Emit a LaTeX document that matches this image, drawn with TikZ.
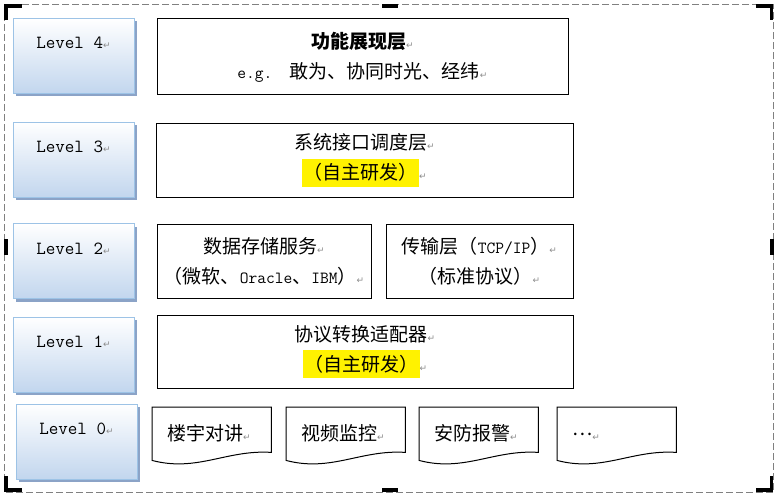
\documentclass[tikz,border=0pt]{standalone}
\usepackage{fontspec}
\newfontfamily\cjk{Noto Sans CJK SC}
\newfontfamily\retfont{DejaVu Sans}
\usepackage{xcolor}
\usetikzlibrary{calc,shadows}

\definecolor{lvlline}{RGB}{157,195,230}
\definecolor{lvlfill}{RGB}{194,214,238}
\definecolor{lvlshade}{RGB}{139,163,199}
\definecolor{framegray}{RGB}{128,128,128}
\definecolor{retgray}{RGB}{140,140,140}

\newcommand\zh[1]{{\cjk\fontsize{19}{30}\selectfont #1}}
\newcommand\retmark{{\retfont\fontsize{9}{9}\selectfont\textcolor{retgray}{↵}}}
\newcommand\yhl[1]{{\setlength\fboxsep{0pt}\colorbox{yellow}{\rule[-7pt]{0pt}{28pt}\hspace{1.5pt}#1\hspace{1.5pt}}}}

\tikzset{
  levelbox/.style={draw=lvlline,line width=1pt,top color=white,bottom color=lvlfill,
    drop shadow={shadow xshift=3pt,shadow yshift=-3pt,fill=lvlshade,opacity=1},
    minimum width=121pt,minimum height=75pt,inner sep=0pt,
    text height=12pt,text depth=26pt,font=\ttfamily\fontsize{18.5}{18.5}\selectfont},
  layerbox/.style={draw,line width=1pt,inner sep=0pt,align=center,
    font=\ttfamily\fontsize{17}{30}\selectfont},
  devtext/.style={anchor=north west,minimum height=45pt,text width=89pt,
    inner xsep=15pt,inner ysep=0pt,align=left,text height=24pt,text depth=2.6pt,
    font=\ttfamily\fontsize{17}{30}\selectfont},
  devline/.style={draw,line width=1pt},
  handle/.style={line width=3.5pt}
}

\begin{document}
\begin{tikzpicture}[x=1pt,y=-1pt]
\useasboundingbox (0,0) rectangle (777,495);
% frame and its handles
\draw[framegray,line width=0.8pt,dash pattern=on 7pt off 3pt](4,4) rectangle (773.5,492);
\draw[handle](6,20)--(6,6)--(22,6);
\draw[handle](756,6)--(771.5,6)--(771.5,20);
\draw[handle](6,476)--(6,489.75)--(22,489.75);
\draw[handle](756,489.75)--(771.5,489.75)--(771.5,476);
\fill(382,4) rectangle (398,8);
\fill(382,487.5) rectangle (398,491.5);
\fill(4,239) rectangle (8,255);
\fill(769.5,239) rectangle (773.5,255);

% levels
\node[levelbox](lv4) at (73.5,56) {Level 4\retmark};
\node[levelbox](lv3) at (73.5,159.5) {Level 3\retmark};
\node[levelbox](lv2) at (73.5,261) {Level 2\retmark};
\node[levelbox](lv1) at (73.5,354.5) {Level 1\retmark};
\node[levelbox](lv0) at (76.5,441.5) {Level 0\retmark};

% layers
\node[layerbox,minimum width=411pt,minimum height=76pt](show) at (362.5,57)
  {\zh{\bfseries 功能展现层}\retmark\\ e.g.\ \ \zh{敢为、协同时光、经纬}\retmark};
\node[layerbox,minimum width=417pt,minimum height=74pt](sched) at (364.5,160)
  {\zh{系统接口调度层}\retmark\\ \yhl{\zh{（自主研发）}}\retmark};
\node[layerbox,minimum width=214pt,minimum height=74pt](store) at (264,261)
  {\zh{数据存储服务}\retmark\\ \zh{（微软、}Oracle\zh{、}IBM\zh{）}\retmark};
\node[layerbox,minimum width=187pt,minimum height=74pt](trans) at (479.5,261)
  {\zh{传输层（}TCP/IP\zh{）}\retmark\\ \zh{（标准协议）}\retmark};
\node[layerbox,minimum width=416pt,minimum height=73pt](adapt) at (365,351.5)
  {\zh{协议转换适配器}\retmark\\ \yhl{\zh{（自主研发）}}\retmark};

% devices
\node[devtext](dev1) at (152,407) {\zh{楼宇对讲}\retmark};
\node[devtext](dev2) at (286,407) {\zh{视频监控}\retmark};
\node[devtext](dev3) at (419,407) {\zh{安防报警}\retmark};
\node[devtext](dev4) at (557,407) {\raisebox{5pt}{\zh{…}}\retmark};
\foreach \d in {dev1,dev2,dev3,dev4}
  \draw[devline](\d.north west)--(\d.north east)--(\d.south east)
    .. controls ($(\d.south west)+(75,-3)$) and ($(\d.south west)+(45,20)$) .. ($(\d.south west)+(0,8)$)--cycle;
\end{tikzpicture}
\end{document}
